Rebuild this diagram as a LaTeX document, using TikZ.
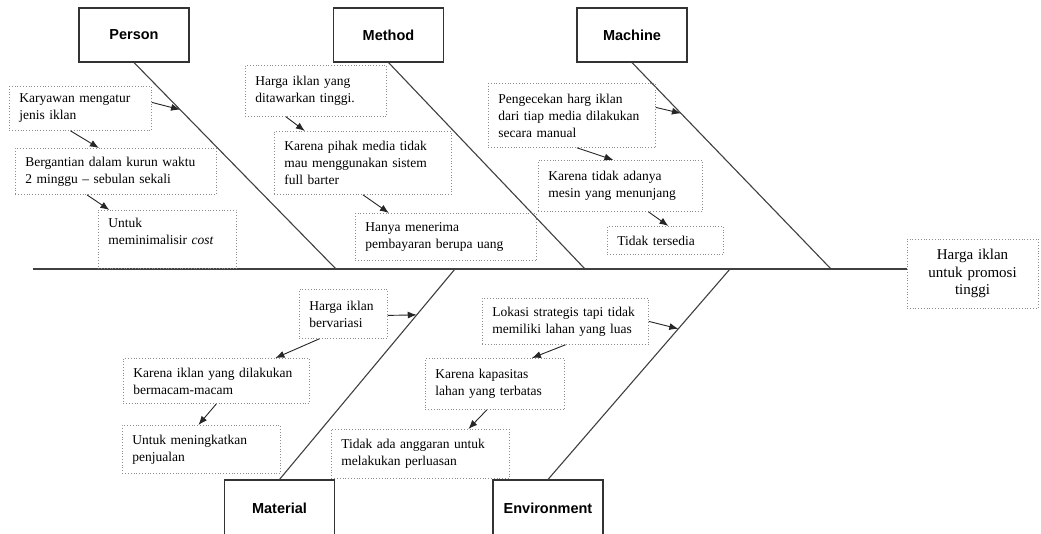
\documentclass[tikz,border=0pt]{standalone}
\usepackage{fontspec}
\setmainfont{Liberation Serif}
\newfontfamily\catfont{Liberation Sans}
\usetikzlibrary{arrows.meta,calc}
\begin{document}
\begin{tikzpicture}[x=1pt,y=-1pt,
  bone/.style={draw=black!75, line width=1.1pt},
  catbox/.style={draw=black!80, line width=1.1pt, fill=white, minimum width=110pt,
    minimum height=54pt, inner sep=0pt, font=\catfont\bfseries\fontsize{14.5}{16}\selectfont},
  cause/.style={draw=black!45, dotted, line width=0.8pt, anchor=north west,
    inner xsep=10pt, inner ysep=6pt, align=left, font=\fontsize{13.5}{17}\selectfont},
  effectbox/.style={draw=black!45, dotted, line width=0.8pt, minimum width=131pt,
    minimum height=69pt, text width=115pt, inner xsep=8pt, align=center,
    font=\fontsize{15}{17.5}\selectfont},
  link/.style={draw=black!85, line width=0.9pt, -{Latex[length=9pt,width=7pt]}}]

\clip (0,0) rectangle (1041,533);
\fill[white] (0,0) rectangle (1041,533);

% effect (head of the fish)
\node[effectbox] (effect) at (972.5,273.5) {Harga iklan\\untuk promosi\\tinggi};

% category boxes
\node[catbox] (person)  at (134,35)   {Person};
\node[catbox] (method)  at (388.5,35) {Method};
\node[catbox] (machine) at (632,35)   {Machine};
\node[catbox, minimum height=56pt] (material)    at (279.5,508) {Material};
\node[catbox, minimum height=56pt] (environment) at (548,508)   {Environment};

% spine and bones
\coordinate (S0) at (33,269);
\coordinate (jP) at (336,269);
\coordinate (jM) at (585,269);
\coordinate (jC) at (831,269);
\coordinate (jA) at (455,269);
\coordinate (jE) at (730,269);

\draw[bone] (S0) -- (S0 -| effect.west);
\draw[bone] (person.south) -- coordinate[pos=0.228] (onP) (jP);
\draw[bone] (method.south) -- (jM);
\draw[bone] (machine.south) -- coordinate[pos=0.246] (onC) (jC);
\draw[bone] (material.north) -- coordinate[pos=0.782] (onA) (jA);
\draw[bone] (environment.north) -- coordinate[pos=0.716] (onE) (jE);

% Person causes
\node[cause, text width=122pt, minimum height=44pt] (k1) at (9,86)
  {Karyawan mengatur\\jenis iklan};
\node[cause, text width=181pt, minimum height=46pt] (k2) at (15,148)
  {Bergantian dalam kurun waktu\\2 minggu – sebulan sekali};
\node[cause, text width=118pt, minimum height=58pt] (k3) at (98,210)
  {Untuk\\meminimalisir \textit{cost}\rule[-16pt]{0pt}{16pt}};

% Method causes
\node[cause, text width=121pt, minimum height=51pt] (m1) at (245,65)
  {Harga iklan yang\\ditawarkan tinggi.};
\node[cause, text width=157pt, minimum height=63pt] (m2) at (274,131)
  {Karena pihak media tidak\\mau menggunakan sistem\\full barter};
\node[cause, text width=161pt, minimum height=47pt] (m3) at (355,213)
  {Hanya menerima\\pembayaran berupa uang};

% Machine causes
\node[cause, text width=147pt, minimum height=64pt] (c1) at (488,83)
  {Pengecekan harg iklan\\dari tiap media dilakukan\\secara manual};
\node[cause, text width=144pt, minimum height=51pt] (c2) at (538,160)
  {Karena tidak adanya\\mesin yang menunjang};
\node[cause, text width=96pt, minimum height=28pt] (c3) at (607,226)
  {Tidak tersedia};

% Material causes
\node[cause, text width=68pt, minimum height=49pt] (a1) at (299,289)
  {Harga iklan\\bervariasi};
\node[cause, text width=166pt, minimum height=45pt] (a2) at (123,358)
  {Karena iklan yang dilakukan\\bermacam-macam};
\node[cause, text width=138pt, minimum height=48pt] (a3) at (122,425)
  {Untuk meningkatkan\\penjualan};

% Environment causes
\node[cause, text width=146pt, minimum height=46pt] (e1) at (482,298)
  {Lokasi strategis tapi tidak\\memiliki lahan yang luas};
\node[cause, text width=119pt, minimum height=51pt] (e2) at (425,358)
  {Karena kapasitas\\lahan yang terbatas};
\node[cause, text width=158pt, minimum height=49pt] (e3) at (331,429)
  {Tidak ada anggaran untuk\\melakukan perluasan};

% arrows
\draw[link] ([yshift=6pt]k1.east) -- (onP);
\draw[link] ([xshift=-10pt]k1.south) -- ([xshift=-17pt]k2.north);
\draw[link] ([xshift=-29pt]k2.south) -- ([xshift=-58pt]k3.north);

\draw[link] ([xshift=-30pt]m1.south) -- ([xshift=-58pt]m2.north);
\draw[link] (m2.south) -- ([xshift=-57pt]m3.north);

\draw[link] ([yshift=8pt]c1.east) -- (onC);
\draw[link] ([xshift=5pt]c1.south) -- ([xshift=-7pt]c2.north);
\draw[link] ([xshift=28pt]c2.south) -- ([xshift=3pt]c3.north);

\draw[link] ([yshift=-1.5pt]a1.east) -- (onA);
\draw[link] ([xshift=-24pt]a1.south) -- ([xshift=59pt]a2.north);
\draw[link] (a2.south) -- ([xshift=-3pt]a3.north);

\draw[link] (e1.east) -- (onE);
\draw[link] (e1.south) -- ([xshift=37pt]e2.north);
\draw[link] ([xshift=-8pt]e2.south) -- ([xshift=48pt]e3.north);
\end{tikzpicture}
\end{document}
